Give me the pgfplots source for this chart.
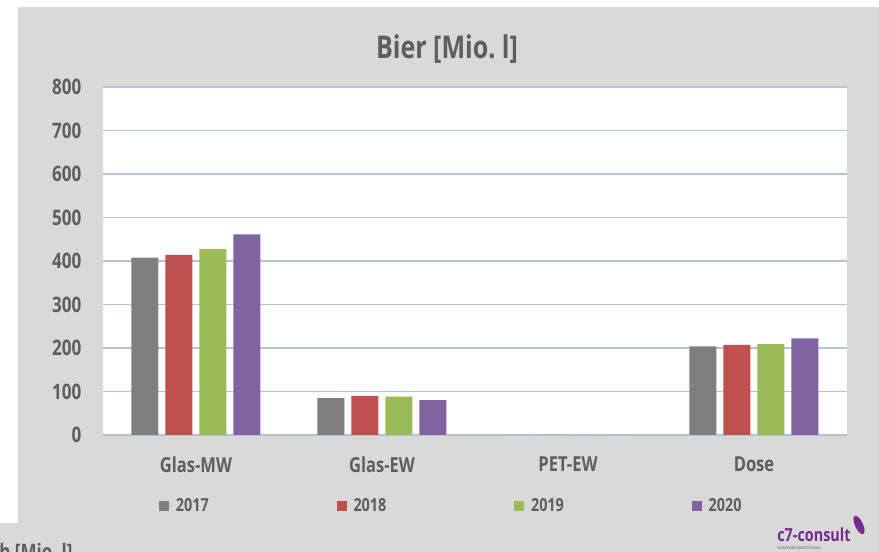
\documentclass[border=0pt]{standalone}
\usepackage{fontspec}
\setmainfont{Open Sans}[FakeStretch=0.8]
\usepackage{pgfplots}
\pgfplotsset{compat=1.18}

\definecolor{bg}{HTML}{D9D9D9}
\definecolor{txt}{HTML}{5E5E5E}
\definecolor{gridc}{HTML}{B4C3D8}
\definecolor{c2017}{HTML}{7F7F7F}
\definecolor{c2018}{HTML}{C0504D}
\definecolor{c2019}{HTML}{9BBB59}
\definecolor{c2020}{HTML}{8064A2}
\definecolor{logo}{HTML}{7A2A8C}

\begin{document}
\begin{tikzpicture}[x=0.75pt,y=0.75pt]
  % slide background (pixel units, origin = lower left of the plot area)
  \useasboundingbox (-103,-117) rectangle (776,435);
  \clip (-103,-117) rectangle (776,435);
  \fill[white] (-103,-117) rectangle (776,435);
  \fill[bg] (-85,-117) rectangle (776,428);
  \fill[bg] (-103,-117) rectangle (776,-88);

  \begin{axis}[
      at={(0,0)}, anchor=south west,
      scale only axis,
      width=558pt, height=261pt,
      ybar=5.25pt, bar width=20.25pt,
      xmin=-0.5, xmax=3.5,
      ymin=0, ymax=800,
      ytick={0,100,...,800},
      xtick={0,1,2,3},
      xticklabels={Glas-MW,Glas-EW,PET-EW,Dose},
      major tick length=0pt,
      axis background/.style={fill=white},
      axis line style={draw=none},
      ymajorgrids=true,
      grid style={gridc, line width=0.9pt},
      /pgf/number format/assume math mode=true,
      yticklabel style={font=\bfseries\fontsize{16}{18}\selectfont, text=txt,
        inner sep=0pt, anchor=east, xshift=-16pt},
      xticklabel style={font=\bfseries\fontsize{15.5}{18}\selectfont, text=txt,
        inner sep=0pt, anchor=north, yshift=-16pt},
      legend style={at={(0.0753,-0.204)}, anchor=west, draw=none, fill=none,
        legend columns=4, font=\bfseries\fontsize{13.5}{15}\selectfont,
        text=txt, inner sep=0pt,
        /tikz/every even column/.append style={column sep=94pt}},
      legend image code/.code={\fill[#1] (0pt,-3.75pt) rectangle (7.5pt,3.75pt);
        \path (0pt,0pt) -- (10.5pt,0pt);},
    ]
    \addplot[fill=c2017, draw=none] coordinates {(0,408) (1,85) (2,0) (3,204)};
    \addplot[fill=c2018, draw=none] coordinates {(0,414) (1,90) (2,0) (3,207)};
    \addplot[fill=c2019, draw=none] coordinates {(0,427) (1,88) (2,0) (3,209)};
    \addplot[fill=c2020, draw=none] coordinates {(0,461) (1,80) (2,0) (3,222)};
    \legend{2017,2018,2019,2020}
  \end{axis}

  \node[anchor=base, font=\bfseries\fontsize{23.5}{26}\selectfont, text=txt]
    at (344,376) {Bier [Mio.~l]};

  % footer of the slide
  \node[anchor=north west, inner sep=0pt, font=\bfseries\fontsize{16}{18}\selectfont, text=txt]
    at (-104,-108) {h [Mio.~l]};
  \node[anchor=base west, inner sep=0pt, font=\bfseries\fontsize{13.5}{15}\selectfont, text=logo]
    at (674,-107) {c7-consult};
  \node[anchor=base west, inner sep=0pt, font=\fontsize{3.5}{4}\selectfont, text=txt]
    at (674,-115) {sustainable performance};
  \fill[logo, rotate around={25:(756,-90)}] (756,-90) ellipse (4 and 10);
\end{tikzpicture}
\end{document}
